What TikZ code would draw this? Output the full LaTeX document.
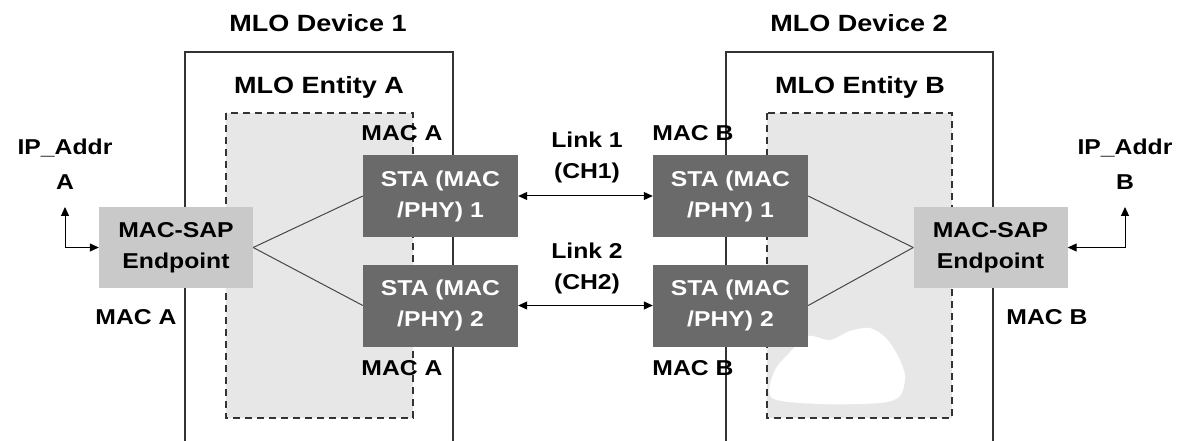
\documentclass[tikz,border=0pt]{standalone}
\usepackage{fontspec}
\setmainfont{Liberation Sans}[FakeStretch=1.15]
\usetikzlibrary{arrows.meta}

\definecolor{stagray}{HTML}{6A6A6A}
\definecolor{sapgray}{HTML}{C9C9C9}
\definecolor{entgray}{HTML}{E7E7E7}
\definecolor{linegray}{HTML}{333333}

\newcommand{\bodytext}{\fontsize{21.5}{31}\selectfont\bfseries}
\newcommand{\titletext}{\fontsize{23.5}{30}\selectfont\bfseries}

\begin{document}
\begin{tikzpicture}[x=1pt,y=-1pt,
  devbox/.style={draw=linegray, line width=1.4pt},
  entbox/.style={draw=linegray, fill=entgray, line width=1.5pt, dash pattern=on 7pt off 5pt},
  stabox/.style={fill=stagray, text=white, font=\bodytext, minimum width=155pt,
                 minimum height=82pt, inner sep=0pt, align=center},
  sapbox/.style={fill=sapgray, text=black, font=\bodytext, minimum width=154pt,
                 minimum height=81pt, inner sep=0pt, align=center},
  lbl/.style={font=\bodytext, inner sep=0pt, align=center},
  ttl/.style={font=\titletext, inner sep=0pt},
  tie/.style={draw=linegray!90, line width=1pt},
  arr/.style={draw=black, line width=1pt, {Triangle[length=9pt,width=8pt]}-{Triangle[length=9pt,width=8pt]}}
]
\useasboundingbox (0,0) rectangle (1179,441);

% device outlines (open at the bottom edge)
\draw[devbox] (185,441) -- (185,52) -- (453,52) -- (453,441);
\draw[devbox] (726,441) -- (726,52) -- (993,52) -- (993,441);

% MLO entities
\draw[entbox] (226,113) rectangle (413,418);
\draw[entbox] (767,113) rectangle (952,418);

% pale patch inside entity B
\fill[white] plot[smooth cycle] coordinates {
  (772,398) (774,372) (790,352) (808,336) (830,340) (850,331) (870,328)
  (886,338) (898,356) (905,376) (900,396) (880,403) (820,404)};

% titles
\node[ttl] (dev1) at (318,23) {MLO Device 1};
\node[ttl] (dev2) at (859,23) {MLO Device 2};
\node[ttl] (entA) at (319,87) {MLO Entity A};
\node[ttl] (entB) at (860,87) {MLO Entity B};

% stations and endpoints
\node[sapbox] (sapA) at (176,247.5) {MAC-SAP\\Endpoint};
\node[sapbox] (sapB) at (990.5,247.5) {MAC-SAP\\Endpoint};
\node[stabox] (staA1) at (440.5,196) {STA (MAC\\/PHY) 1};
\node[stabox] (staA2) at (440.5,305.5) {STA (MAC\\/PHY) 2};
\node[stabox] (staB1) at (730.5,196) {STA (MAC\\/PHY) 1};
\node[stabox] (staB2) at (730.5,305.5) {STA (MAC\\/PHY) 2};

% endpoint to station ties
\draw[tie] (sapA.east) -- (staA1.west);
\draw[tie] (sapA.east) -- (staA2.west);
\draw[tie] (sapB.west) -- (staB1.east);
\draw[tie] (sapB.west) -- (staB2.east);

% links
\draw[arr] (staA1.east) -- (staB1.west);
\draw[arr] (staA2.east) -- (staB2.west);
\node[lbl] (link1) at (587,157) {Link 1\\(CH1)};
\node[lbl] (link2) at (587,268) {Link 2\\(CH2)};

% IP addresses
\node[lbl, font=\fontsize{21.5}{35}\selectfont\bfseries] (ipA) at (65,164) {IP\_Addr\\A};
\node[lbl, font=\fontsize{21.5}{35}\selectfont\bfseries] (ipB) at (1125,164) {IP\_Addr\\B};
\coordinate (ipAtip) at (65,207);
\coordinate (ipBtip) at (1125,207);
\draw[arr] (ipAtip) |- (sapA.west);
\draw[arr] (ipBtip) |- (sapB.east);

% MAC address labels
\node[lbl] (macA0) at (136,317) {MAC A};
\node[lbl] (macB0) at (1047,317) {MAC B};
\node[lbl] (macA1) at (402,133) {MAC A};
\node[lbl] (macA2) at (402,368) {MAC A};
\node[lbl] (macB1) at (693,133) {MAC B};
\node[lbl] (macB2) at (693,368) {MAC B};
\end{tikzpicture}
\end{document}
